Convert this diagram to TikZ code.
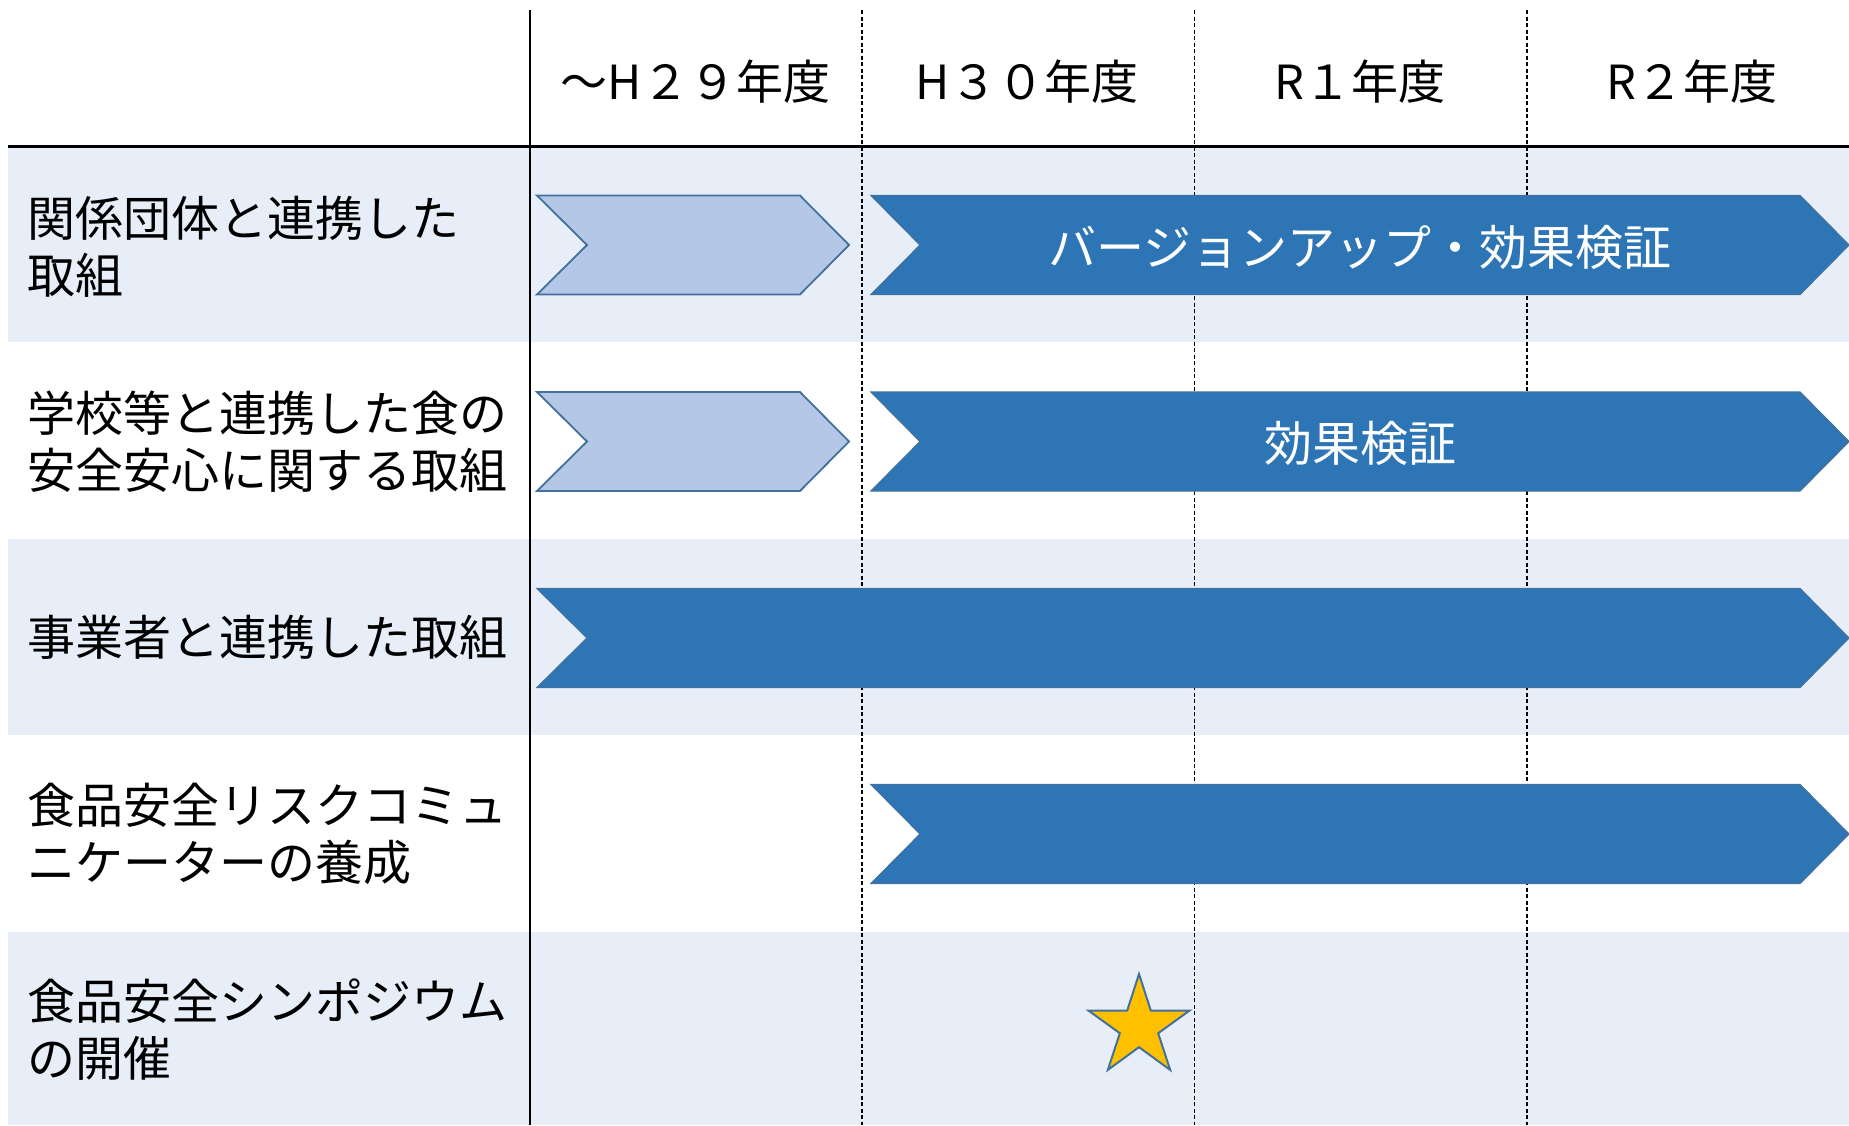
\documentclass[tikz,border=0pt]{standalone}
\usepackage{fontspec}
\newfontfamily\jp{Noto Sans CJK JP}
\usetikzlibrary{shapes.geometric}
\definecolor{bandcol}{HTML}{E8EEF8}
\definecolor{lightchev}{HTML}{B4C7E7}
\definecolor{darkchev}{HTML}{2E75B6}
\definecolor{chevline}{HTML}{41719C}
\definecolor{starfill}{HTML}{FFC000}
\begin{document}
\begin{tikzpicture}[x=1pt,y=-1pt,
  bandrect/.style={fill=bandcol,draw=none},
  lightarrow/.style={fill=lightchev,draw=chevline,line width=1.8pt,line join=miter},
  darkarrow/.style={fill=darkchev,draw=chevline,line width=1.2pt,line join=miter},
  solidline/.style={draw=black,line width=2pt},
  dashline/.style={draw=black,line width=1.5pt,dash pattern=on 4pt off 2.5pt},
  hdr/.style={font=\jp\fontsize{47}{55}\selectfont,anchor=center,inner sep=0pt},
  lbl/.style={font=\jp\fontsize{48}{57}\selectfont,anchor=west,align=left,inner sep=0pt},
  chevtext/.style={font=\jp\fontsize{48}{57}\selectfont,text=white,anchor=center,inner sep=0pt},
  starshape/.style={star,star points=5,star point ratio=2.63,minimum size=106pt,inner sep=0pt,fill=starfill,draw=chevline,line width=2pt}
]
\useasboundingbox (0,0) rectangle (1849,1125);
\fill[white] (0,0) rectangle (1849,1125);
% bands
\path[bandrect] (8,146) rectangle (1849,342);
\path[bandrect] (8,539) rectangle (1849,735);
\path[bandrect] (8,932) rectangle (1849,1125);
% grid lines
\draw[solidline] (529.5,10) -- (529.5,1125);
\draw[dashline] (862,10) -- (862,1125);
\draw[dashline] (1194.5,10) -- (1194.5,1125);
\draw[dashline] (1527,10) -- (1527,1125);
\draw[draw=black,line width=3pt] (8,146) -- (1849,146);
% row 1
\draw[lightarrow] (537,195.5) -- (800,195.5) -- (849,245) -- (800,294.5) -- (537,294.5) -- (587,245) -- cycle;
\draw[darkarrow] (871,195.5) -- (1800,195.5) -- (1849,245) -- (1800,294.5) -- (871,294.5) -- (920,245) -- cycle;
% row 2
\draw[lightarrow] (537,392) -- (800,392) -- (849,441.5) -- (800,491) -- (537,491) -- (587,441.5) -- cycle;
\draw[darkarrow] (871,392) -- (1800,392) -- (1849,441.5) -- (1800,491) -- (871,491) -- (920,441.5) -- cycle;
% row 3
\draw[darkarrow] (537,588.5) -- (1800,588.5) -- (1849,638) -- (1800,687.5) -- (537,687.5) -- (587,638) -- cycle;
% row 4
\draw[darkarrow] (871,784.5) -- (1800,784.5) -- (1849,834) -- (1800,883.5) -- (871,883.5) -- (920,834) -- cycle;
% star
\node[starshape] (star) at (1139,1027) {};
% headers
\node[hdr] (h1) at (695.5,82) {～H２９年度};
\node[hdr] (h2) at (1027,82) {H３０年度};
\node[hdr] (h3) at (1360,82) {R１年度};
\node[hdr] (h4) at (1692,82) {R２年度};
% row labels
\node[lbl] (l1) at (27,247) {関係団体と連携した\\取組};
\node[lbl] (l2) at (27,442) {学校等と連携した食の\\安全安心に関する取組};
\node[lbl] (l3) at (27,637) {事業者と連携した取組};
\node[lbl] (l4) at (27,834) {食品安全リスクコミュ\\ニケーターの養成};
\node[lbl] (l5) at (27,1030) {食品安全シンポジウム\\の開催};
% chevron texts
\node[chevtext] (t1) at (1360,247) {バージョンアップ・効果検証};
\node[chevtext] (t2) at (1360,443) {効果検証};
\end{tikzpicture}
\end{document}
